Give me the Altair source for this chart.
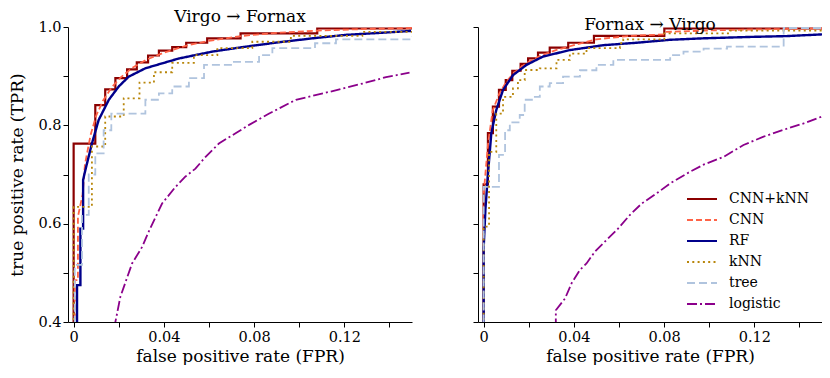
import altair as alt
import pandas as pd

models = ["CNN+kNN", "CNN", "RF", "kNN", "tree", "logistic"]
colors = ["#8b0000", "#ff6347", "#00008b", "#b8860b", "#b0c4de", "#8b008b"]
dashes = [[1, 0], [6, 3], [1, 0], [2, 3.3], [8, 4], [10, 3, 2, 3]]
widths = [2.2, 1.8, 2.4, 1.8, 1.8, 1.8]
interp = ["step-after", "linear", "linear", "step-after", "step-after", "linear"]

# ---- Virgo -> Fornax ----
vf_cnnknn_fpr = [0, 0, 0.0096, 0.014, 0.0185, 0.0237, 0.028, 0.033, 0.0378, 0.0437, 0.0499, 0.0592, 0.074, 0.108, 0.15]
vf_cnnknn_tpr = [0.35, 0.763, 0.841, 0.873, 0.896, 0.914, 0.928, 0.942, 0.952, 0.959, 0.968, 0.977, 0.987, 0.997, 0.997]
vf_cnn_fpr = [0.0005, 0.0005, 0.0019, 0.0019, 0.004, 0.005, 0.0075, 0.010, 0.013, 0.017, 0.021, 0.026, 0.032, 0.040, 0.050, 0.060, 0.075, 0.090, 0.110, 0.130, 0.150]
vf_cnn_tpr = [0.35, 0.485, 0.485, 0.614, 0.66, 0.72, 0.78, 0.82, 0.85, 0.878, 0.898, 0.917, 0.933, 0.948, 0.962, 0.972, 0.982, 0.988, 0.993, 0.996, 0.998]
vf_rf_fpr = [0.0015, 0.0015, 0.003, 0.003, 0.0042, 0.0042, 0.0052, 0.0081, 0.0111, 0.0156, 0.020, 0.0244, 0.0318, 0.0392, 0.0467, 0.0615, 0.0763, 0.0911, 0.106, 0.1207, 0.1356, 0.1496]
vf_rf_tpr = [0.35, 0.475, 0.475, 0.59, 0.59, 0.689, 0.709, 0.763, 0.811, 0.852, 0.879, 0.899, 0.916, 0.926, 0.936, 0.95, 0.96, 0.969, 0.977, 0.984, 0.988, 0.992]
vf_knn_fpr = [0, 0, 0.0081, 0.014, 0.0222, 0.0292, 0.0356, 0.0437, 0.0533, 0.0637, 0.0792, 0.0963, 0.128, 0.15]
vf_knn_tpr = [0.35, 0.634, 0.757, 0.818, 0.855, 0.887, 0.908, 0.927, 0.943, 0.957, 0.97, 0.982, 0.99, 0.99]
vf_tree_fpr = [0, 0.0005, 0.0037, 0.0067, 0.0096, 0.0133, 0.0167, 0.0318, 0.0378, 0.0437, 0.0511, 0.0578, 0.0704, 0.0822, 0.0881, 0.107, 0.1163, 0.15]
vf_tree_tpr = [0.35, 0.516, 0.618, 0.70, 0.743, 0.79, 0.824, 0.852, 0.865, 0.879, 0.896, 0.923, 0.929, 0.943, 0.957, 0.967, 0.975, 0.98]
vf_log_fpr = [0.0185, 0.0185, 0.0207, 0.0259, 0.0304, 0.0333, 0.0392, 0.0452, 0.0496, 0.054, 0.0585, 0.0644, 0.0718, 0.0778, 0.0867, 0.0985, 0.1133, 0.1281, 0.1385, 0.1489]
vf_log_tpr = [0.35, 0.40, 0.451, 0.519, 0.553, 0.584, 0.641, 0.675, 0.696, 0.712, 0.736, 0.763, 0.784, 0.801, 0.824, 0.852, 0.868, 0.885, 0.898, 0.907]

# ---- Fornax -> Virgo ----
fv_cnnknn_fpr = [0, 0, 0.0019, 0.0041, 0.0068, 0.0098, 0.0127, 0.0164, 0.0197, 0.0241, 0.0293, 0.0375, 0.0489, 0.0801, 0.15]
fv_cnnknn_tpr = [0.35, 0.68, 0.784, 0.838, 0.872, 0.892, 0.911, 0.925, 0.936, 0.948, 0.958, 0.968, 0.982, 0.997, 0.997]
fv_cnn_fpr = [0, 0, 0.0019, 0.004, 0.007, 0.010, 0.013, 0.017, 0.021, 0.026, 0.032, 0.040, 0.050, 0.065, 0.080, 0.081, 0.10, 0.12, 0.15]
fv_cnn_tpr = [0.35, 0.66, 0.76, 0.83, 0.865, 0.888, 0.905, 0.92, 0.932, 0.943, 0.953, 0.963, 0.975, 0.982, 0.985, 0.99, 0.993, 0.995, 0.997]
fv_rf_fpr = [0, 0, 0.0008, 0.0019, 0.0034, 0.0056, 0.0086, 0.013, 0.019, 0.0264, 0.0382, 0.053, 0.0679, 0.0827, 0.0975, 0.1197, 0.1345, 0.15]
fv_rf_tpr = [0.35, 0.55, 0.63, 0.70, 0.784, 0.831, 0.872, 0.902, 0.923, 0.94, 0.953, 0.963, 0.968, 0.974, 0.977, 0.98, 0.9815, 0.985]
fv_knn_fpr = [0, 0, 0.0024, 0.0056, 0.0086, 0.013, 0.0152, 0.0182, 0.0249, 0.0323, 0.0382, 0.0456, 0.0604, 0.0619, 0.0801, 0.1093, 0.15]
fv_knn_tpr = [0.35, 0.594, 0.746, 0.824, 0.858, 0.875, 0.892, 0.9125, 0.916, 0.933, 0.946, 0.957, 0.967, 0.975, 0.987, 0.9925, 0.9925]
fv_tree_fpr = [0, 0, 0.0068, 0.0095, 0.0116, 0.016, 0.0182, 0.0227, 0.0249, 0.0293, 0.0352, 0.0427, 0.05, 0.0575, 0.0827, 0.0886, 0.0975, 0.1079, 0.133, 0.15]
fv_tree_tpr = [0.35, 0.675, 0.74, 0.79, 0.806, 0.821, 0.852, 0.858, 0.879, 0.886, 0.899, 0.912, 0.923, 0.933, 0.943, 0.95, 0.956, 0.96, 0.998, 0.998]
fv_log_fpr = [0.032, 0.032, 0.0361, 0.039, 0.0427, 0.0456, 0.0493, 0.0545, 0.059, 0.0649, 0.0701, 0.0768, 0.0827, 0.0916, 0.0975, 0.1064, 0.1152, 0.1241, 0.133, 0.1419, 0.15]
fv_log_tpr = [0.35, 0.424, 0.448, 0.479, 0.506, 0.519, 0.543, 0.567, 0.587, 0.618, 0.641, 0.662, 0.682, 0.706, 0.72, 0.736, 0.76, 0.777, 0.791, 0.804, 0.818]

series = {
    "vf": [(vf_cnnknn_fpr, vf_cnnknn_tpr), (vf_cnn_fpr, vf_cnn_tpr), (vf_rf_fpr, vf_rf_tpr),
           (vf_knn_fpr, vf_knn_tpr), (vf_tree_fpr, vf_tree_tpr), (vf_log_fpr, vf_log_tpr)],
    "fv": [(fv_cnnknn_fpr, fv_cnnknn_tpr), (fv_cnn_fpr, fv_cnn_tpr), (fv_rf_fpr, fv_rf_tpr),
           (fv_knn_fpr, fv_knn_tpr), (fv_tree_fpr, fv_tree_tpr), (fv_log_fpr, fv_log_tpr)],
}

rows = []
for key, lst in series.items():
    for m, (fx, ty) in zip(models, lst):
        for i, (a, b) in enumerate(zip(fx, ty)):
            rows.append({"panel": key, "model": m, "idx": i, "fpr": a, "tpr": b})
df = pd.DataFrame(rows)

FONT = "DejaVu Serif"
x_ticks = [0, 0.02, 0.04, 0.06, 0.08, 0.10, 0.12, 0.14]
y_ticks = [0.4, 0.5, 0.6, 0.7, 0.8, 0.9, 1.0]

legend = alt.Legend(
    title=None, orient="none", legendX=627, legendY=165,
    symbolType="M-3,0H3", symbolSize=100, symbolStrokeWidth=2.2,
    labelFont=FONT, labelFontSize=14, labelColor="black", labelOffset=20,
    rowPadding=7, padding=0,
)

draw_order = [0, 1, 2, 3, 4, 5]


def panel(key, title, first):
    xaxis = alt.Axis(values=x_ticks,
                     labelExpr="round(datum.value*100) % 4 == 0 ? (datum.value == 0 ? '0' : format(datum.value, '.2f')) : ''",
                     title="false positive rate (FPR)", grid=False, labelPadding=3, titlePadding=5)
    if first:
        yaxis = alt.Axis(values=y_ticks,
                         labelExpr="round(datum.value*10) % 2 == 0 ? format(datum.value, '.1f') : ''",
                         title="true positive rate (TPR)", grid=False, labelPadding=2, titlePadding=11)
    else:
        yaxis = alt.Axis(values=y_ticks, labels=False, title=None, grid=False)
    layers = []
    for i in draw_order:
        d = df[(df.panel == key) & (df.model == models[i])]
        layers.append(
            alt.Chart(d).mark_line(interpolate=interp[i], strokeWidth=widths[i], clip=True).encode(
                x=alt.X("fpr:Q", scale=alt.Scale(domain=[-0.0025, 0.15], nice=False, zero=False), axis=xaxis),
                y=alt.Y("tpr:Q", scale=alt.Scale(domain=[0.4, 1.0], nice=False, zero=False), axis=yaxis),
                color=alt.Color("model:N", scale=alt.Scale(domain=models, range=colors), legend=legend),
                strokeDash=alt.StrokeDash("model:N", scale=alt.Scale(domain=models, range=dashes), legend=legend),
                order=alt.Order("idx:Q"),
            )
        )
    return alt.layer(*layers).properties(
        width=344, height=295,
        title=alt.TitleParams(title, font=FONT, fontSize=17, fontWeight="normal", color="black", offset=-7),
    )


chart = alt.hconcat(
    panel("vf", "Virgo \u2192 Fornax", True),
    panel("fv", "Fornax \u2192 Virgo", False),
    spacing=60,
).properties(
    padding={"left": 0, "top": 0, "right": 0, "bottom": 0},
).configure_view(stroke=None).configure_axis(
    labelFont=FONT, labelFontSize=14.5, labelColor="black",
    titleFont=FONT, titleFontSize=17, titleFontWeight="normal", titleColor="black",
    domainColor="black", tickColor="black", tickSize=5,
    domainWidth=1, tickWidth=1,
)

chart.save("out.html", embed_options={"renderer": "svg", "actions": False})
